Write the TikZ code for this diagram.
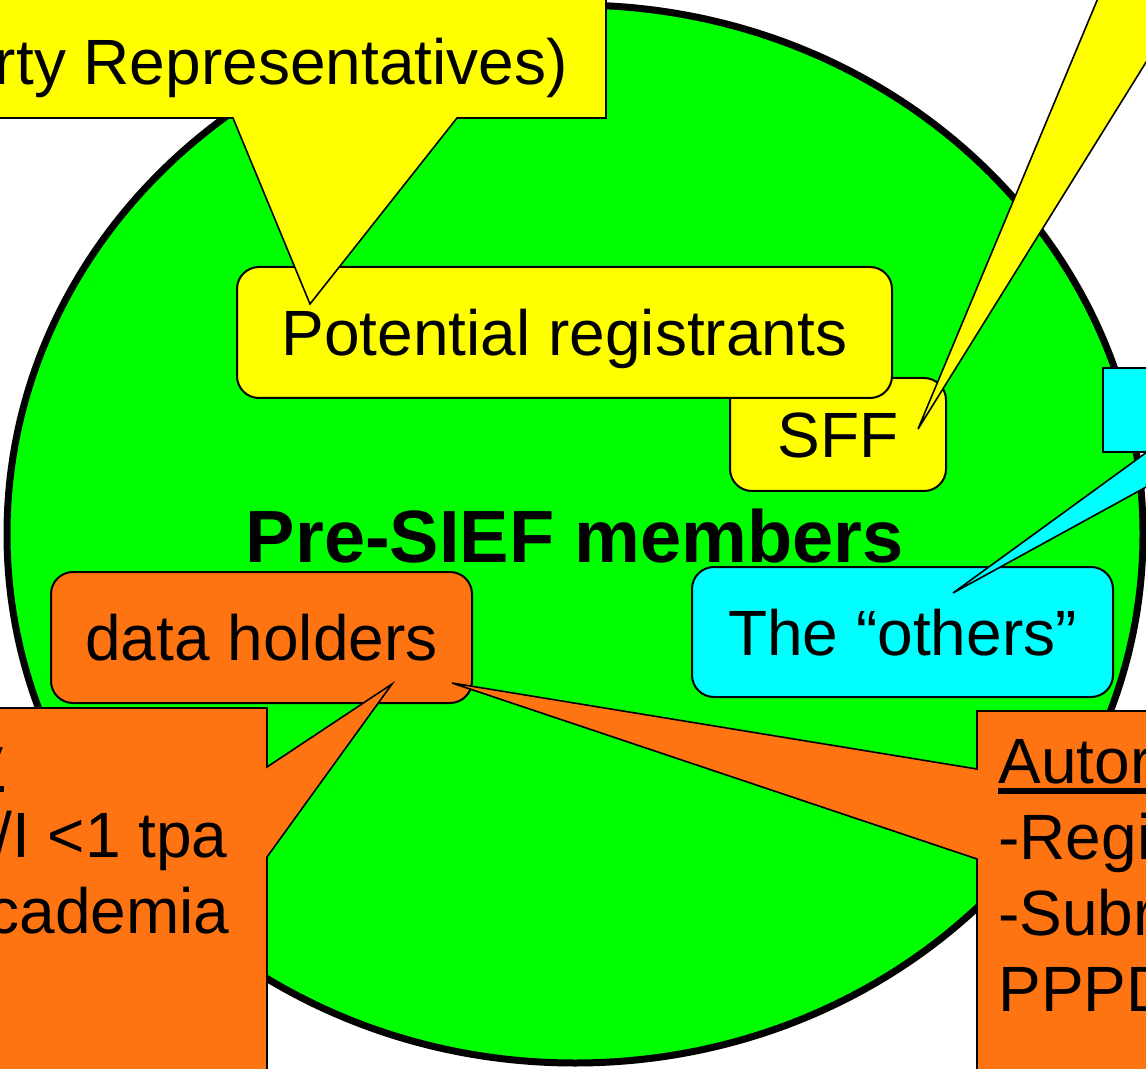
\documentclass[tikz,border=0pt]{standalone}
\usepackage{fontspec}
\setmainfont{Liberation Sans}
\usetikzlibrary{shapes.geometric}

\definecolor{siefgreen}{RGB}{0,255,0}
\definecolor{regyellow}{RGB}{255,255,0}
\definecolor{othercyan}{RGB}{0,255,255}
\definecolor{holderorange}{RGB}{255,116,18}

% underline at a fixed depth, as the slide does
\newcommand{\ulbar}[1]{\setbox0=\hbox{#1}\rlap{\rule[-5.5pt]{\wd0}{2.8pt}}\box0}

\begin{document}
\begin{tikzpicture} [
    x=0.5pt, y=-0.5pt,
    every node/.style = { font=\fontsize{32}{38}\selectfont, inner sep=0pt },
    box/.style      = { rectangle, rounded corners=11pt, draw, line width=1pt,
                        text height=23pt, text depth=0pt },
    callout/.style  = { draw, line width=0.8pt },
  ]

  \useasboundingbox (0,0) rectangle (1146,1069);
  \clip (0,0) rectangle (1146,1069);

  % the big set
  \node[ellipse, draw, line width=3.5pt, fill=siefgreen,
        minimum width=568pt, minimum height=529pt,
        font=\bfseries\fontsize{37}{44}\selectfont,
        text height=28pt, text depth=0pt] (presief) at (575,534) {Pre-SIEF members};

  % boxes inside the set
  \node[box, fill=regyellow, minimum width=108pt, minimum height=56.5pt] (sff) at (838,434.5) {SFF};
  \node[box, fill=regyellow, minimum width=327.5pt, minimum height=65.5pt] (potreg) at (564.5,332.5) {Potential registrants};
  \node[box, fill=holderorange, minimum width=210.5pt, minimum height=65.5pt] (holders) at (261.5,637.5) {data holders};
  \node[box, fill=othercyan, minimum width=210.5pt, minimum height=65pt] (others) at (902.5,632) {The “others”};

  % where the callouts point
  \coordinate (tipreg) at (310,304);
  \coordinate (tipsff) at (918,429);
  \coordinate (tipoth) at (953,593);
  \coordinate (tiphl)  at (392,684);
  \coordinate (tiphr)  at (452,683);

  % callouts
  \path[callout, fill=regyellow] (-20,-20) -- (606,-20) -- (606,118) -- (457,118)
        -- (tipreg) -- (233,118) -- (-20,118) -- cycle;
  \node[anchor=base east] (reptxt) at (568,85) {rty Representatives)};

  \path[callout, fill=regyellow] (1139,-100) -- (tipsff) -- (1250,-105) -- cycle;

  \path[callout, fill=othercyan] (1103,368) -- (1300,368) -- (1300,452) -- (1210,452)
        -- (tipoth) -- (1147,452) -- (1103,452) -- cycle;

  \path[callout, fill=holderorange] (-20,708) -- (267,708) -- (267,767) -- (tiphl)
        -- (267,857) -- (267,1100) -- (-20,1100) -- cycle;
  \node[anchor=base east] (voly)   at (4,781)   {\ulbar{y}};
  \node[anchor=base east] (voltpa) at (228,857) {/I <1 tpa};
  \node[anchor=base east] (volaca) at (230,933) {cademia};

  \path[callout, fill=holderorange] (977,711) -- (1200,711) -- (1200,1100) -- (977,1100)
        -- (977,859) -- (tiphr) -- (977,769) -- cycle;
  \node[anchor=base west] (autohead) at (998,783)  {\ulbar{Autor}};
  \node[anchor=base west] (autoreg)  at (998,859)  {-Regi};
  \node[anchor=base west] (autosub)  at (998,935)  {-Subr};
  \node[anchor=base west] (autoppp)  at (998,1011) {PPPD};
\end{tikzpicture}
\end{document}
